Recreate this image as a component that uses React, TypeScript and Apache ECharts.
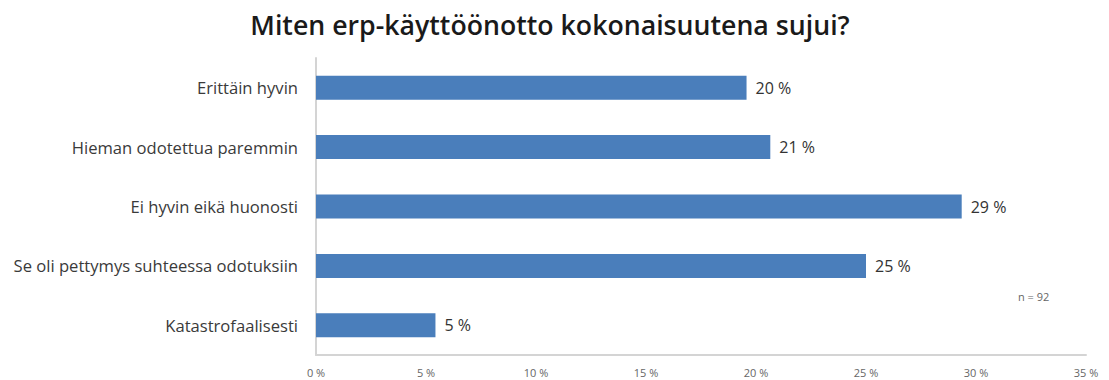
import React, { useEffect, useRef } from "react";
import * as echarts from "echarts";

const titleText = "Miten erp-käyttöönotto kokonaisuutena sujui?";
const categories = [
  "Erittäin hyvin",
  "Hieman odotettua paremmin",
  "Ei hyvin eikä huonosti",
  "Se oli pettymys suhteessa odotuksiin",
  "Katastrofaalisesti",
];
// n = 92 responses: 18, 19, 27, 23, 5
const values = [19.57, 20.65, 29.35, 25.0, 5.43];
const axisMin = 0;
const axisMax = 35;
const axisStep = 5;
const noteText = "n = 92";

export default function App() {
  const ref = useRef<HTMLDivElement>(null);
  useEffect(() => {
    if (!ref.current) return;
    const chart = echarts.init(ref.current, null, { renderer: "svg" });
    chart.setOption({
      animation: false,
      backgroundColor: "#ffffff",
      title: {
        text: titleText,
        left: 545,
        textAlign: "center",
        top: 6,
        textStyle: {
          fontFamily: "Open Sans",
          fontWeight: 600,
          fontSize: 26.7,
          color: "#1a1a1a",
        },
      },
      grid: { left: 316, right: 23, top: 58, bottom: 25, containLabel: false },
      xAxis: {
        type: "value",
        min: axisMin,
        max: axisMax,
        interval: axisStep,
        splitLine: { show: false },
        axisLine: { show: true, lineStyle: { color: "#d4d4d4", width: 2 } },
        axisTick: { show: false },
        axisLabel: {
          formatter: (v: number) => `${v} %`,
          fontFamily: "Open Sans",
          fontSize: 11,
          color: "#666666",
          margin: 12,
        },
      },
      yAxis: {
        type: "category",
        data: categories,
        inverse: true,
        axisLine: { show: true, lineStyle: { color: "#d4d4d4", width: 2 } },
        axisTick: { show: false },
        axisLabel: {
          fontFamily: "Open Sans",
          fontSize: 16.6,
          color: "#3a3a3a",
          margin: 18,
        },
      },
      series: [
        {
          type: "bar",
          data: values,
          barWidth: 24,
          itemStyle: { color: "#4a7ebb" },
          label: {
            show: true,
            position: "right",
            distance: 9,
            formatter: (p: any) => `${Math.round(p.value)} %`,
            fontFamily: "Open Sans",
            fontSize: 16,
            color: "#333333",
          },
        },
      ],
      graphic: [
        {
          type: "text",
          left: 1018,
          top: 291,
          style: {
            text: noteText,
            fontFamily: "Open Sans",
            fontSize: 11,
            fill: "#666666",
          },
        },
      ],
    });
    return () => chart.dispose();
  }, []);
  return (
    <div
      ref={ref}
      style={{ position: "absolute", left: 0, top: 0, width: 1109, height: 380 }}
    />
  );
}
